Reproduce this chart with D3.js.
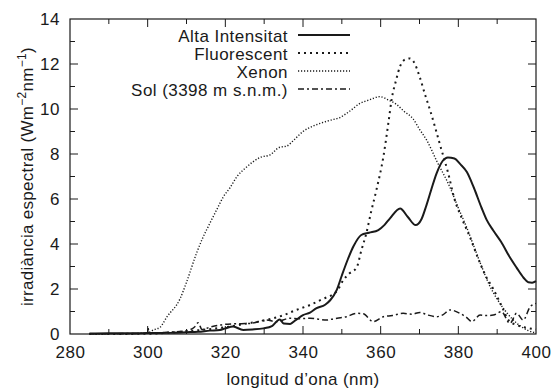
<!DOCTYPE html>
<html><head><meta charset="utf-8">
<script src="https://cdn.jsdelivr.net/npm/d3@7"></script>
<style>body{margin:0;background:#fff}svg{display:block}text{font-family:"Liberation Sans",Arial,sans-serif;fill:#1a1a1a}</style>
</head><body><svg id="c" width="552" height="392"></svg>
<script>
const seriesNames = ["Alta Intensitat","Fluorescent","Xenon","Sol (3398 m s.n.m.)"];
const xTicks = [280,300,320,340,360,380,400];
const yTicks = [0,2,4,6,8,10,12,14];

const altaWl = [285,290,295,300,305,310,313,316,318.6,320,322,324.6,327,329.8,332,334,335,336.7,338,340,341.8,343.5,345.7,347,348.7,350,351.5,353,355,357,359.4,361,362.4,365,367,369,370.5,371.8,373,374.4,376,377.3,379,380.5,382.2,384,386,387.3,389,391,393.3,395,396.8,398,399,400];
const altaVal = [0.02,0.03,0.03,0.04,0.05,0.08,0.1,0.15,0.18,0.25,0.33,0.18,0.2,0.25,0.35,0.65,0.47,0.45,0.6,0.84,0.95,1.15,1.3,1.5,1.96,2.6,3.3,3.9,4.4,4.5,4.62,4.85,5.14,5.58,5.2,4.84,5.1,5.73,6.4,7.14,7.7,7.85,7.8,7.55,7.2,6.5,5.6,5.07,4.6,4.1,3.4,2.95,2.5,2.3,2.28,2.35];

const fluoWl = [285,300,305,310,315,320,325,330,335,338,341.8,345,348.7,350.4,352,353.8,355,356.3,357.5,358.9,360.7,362,362.8,364,365,366.3,367.5,368.5,370.1,371.5,372.7,374,375.3,377.4,379,381,383,385,387,389,391,393,395,397,400];
const fluoVal = [0,0.01,0.05,0.12,0.2,0.3,0.45,0.6,0.84,1.05,1.29,1.55,1.9,2.4,2.7,2.95,3.7,4.47,5.4,6.4,7.88,9.4,10.4,11.3,11.9,12.2,12.25,12.1,11.4,10.6,9.96,9.2,8.4,7.14,6.0,5.1,4.3,3.4,2.6,2.0,1.3,0.6,0.4,0.3,0.2];

const xenWl = [285,295,300,301.5,303.2,305,308.3,310,312.6,314,316.1,318,319.5,321.2,323,325,327.2,329,331.5,334,335.8,337.5,340,342.7,344.4,347,349.5,352,354.7,357,359.8,362,364.1,366,368.4,370,371.9,374.4,377.9,380,382,384,386,388.2,390,392,394,396,398,400];
const xenVal = [0,0.01,0.05,0.18,0.3,0.77,1.55,2.3,3.6,4.2,4.95,5.6,6.1,6.5,7.0,7.35,7.66,7.85,7.96,8.3,8.35,8.6,9.0,9.25,9.36,9.5,9.62,9.9,10.25,10.4,10.55,10.4,10.2,9.9,9.55,9.1,8.6,7.7,6.5,5.6,4.8,3.9,3.0,2.1,1.55,1.05,0.65,0.35,0.15,0.05];

const solWl = [285,295,300,300.1,300.3,305,310,312,313,314,316,318.6,322,326.4,330.6,333,336.7,339,341.8,344,346.1,348,351.2,353.8,355.5,358.1,360.7,363,365.8,368,370.1,372,374.4,376,377.9,380.4,382,383.5,385.6,387,389,391.1,393.3,395,396.7,398.5,400];
const solVal = [0.01,0.02,0.04,0.3,0.04,0.08,0.15,0.3,0.5,0.2,0.3,0.4,0.45,0.47,0.62,0.55,0.7,0.68,0.7,0.66,0.62,0.68,0.77,0.92,0.9,0.55,0.77,0.82,0.92,0.88,0.96,0.85,0.77,0.85,1.07,0.92,0.75,0.55,0.84,0.82,0.84,0.99,0.47,0.92,0.62,1.21,1.36];

const L=70,R=536,T=19,B=334;
const x=d3.scaleLinear().domain([280,400]).range([L,R]);
const y=d3.scaleLinear().domain([0,14]).range([B,T]);
const svg=d3.select("#c");
const ink="#1a1a1a";

const g=svg.append("g");
const xMinor=d3.range(290,400,20), yMinor=d3.range(1,14,2);
xTicks.slice(1,-1).forEach(v=>{g.append("line").attr("x1",x(v)).attr("x2",x(v)).attr("y1",B).attr("y2",B-8);g.append("line").attr("x1",x(v)).attr("x2",x(v)).attr("y1",T).attr("y2",T+8);});
xMinor.forEach(v=>{g.append("line").attr("x1",x(v)).attr("x2",x(v)).attr("y1",B).attr("y2",B-5);g.append("line").attr("x1",x(v)).attr("x2",x(v)).attr("y1",T).attr("y2",T+5);});
yTicks.slice(1,-1).forEach(v=>{g.append("line").attr("x1",L).attr("x2",L+8).attr("y1",y(v)).attr("y2",y(v));g.append("line").attr("x1",R).attr("x2",R-8).attr("y1",y(v)).attr("y2",y(v));});
yMinor.forEach(v=>{g.append("line").attr("x1",L).attr("x2",L+5).attr("y1",y(v)).attr("y2",y(v));g.append("line").attr("x1",R).attr("x2",R-5).attr("y1",y(v)).attr("y2",y(v));});
g.selectAll("line").attr("stroke",ink).attr("stroke-width",1);

const xa=svg.append("g").attr("transform",`translate(0,${B})`).call(d3.axisBottom(x).tickValues(xTicks).tickSize(0).tickPadding(12));
const ya=svg.append("g").attr("transform",`translate(${L},0)`).call(d3.axisLeft(y).tickValues(yTicks).tickSize(0).tickPadding(10));
[xa,ya].forEach(a=>{a.select(".domain").remove();a.selectAll("text").attr("font-size",17).attr("fill",ink).attr("letter-spacing",0.6).style("font-family","Liberation Sans, Arial, sans-serif");});

svg.append("rect").attr("x",L).attr("y",T).attr("width",R-L).attr("height",B-T).attr("fill","none").attr("stroke",ink).attr("stroke-width",1.2);

const line=d3.line().x(d=>x(d[0])).y(d=>y(d[1])).curve(d3.curveMonotoneX);
const styles=[
 {w:2,dash:null},
 {w:2,dash:"2,4"},
 {w:1.4,dash:"1.2,1.8"},
 {w:1.5,dash:"6,3,2,3"}
];
const data=[[altaWl,altaVal],[fluoWl,fluoVal],[xenWl,xenVal],[solWl,solVal]];
data.forEach((s,i)=>{
  const pts=s[0].map((w,j)=>[w,s[1][j]]);
  svg.append("path").datum(pts).attr("d",line).attr("fill","none").attr("stroke",ink)
    .attr("stroke-width",styles[i].w).attr("stroke-dasharray",styles[i].dash);
});

const legY=[35,53,71,89];
seriesNames.forEach((n,i)=>{
  svg.append("text").attr("x",288).attr("y",legY[i]+7).attr("text-anchor","end").attr("font-size",17).attr("letter-spacing",0.45).text(n);
  svg.append("line").attr("x1",298).attr("x2",350).attr("y1",legY[i]).attr("y2",legY[i]).attr("stroke",ink)
    .attr("stroke-width",styles[i].w).attr("stroke-dasharray",styles[i].dash);
});

svg.append("text").attr("x",(L+R)/2).attr("y",385).attr("text-anchor","middle").attr("font-size",17).attr("letter-spacing",0.4).text("longitud d\u2019ona (nm)");
const yt=svg.append("text").attr("transform",`translate(33,${(T+B)/2}) rotate(-90)`).attr("text-anchor","middle").attr("font-size",17).attr("letter-spacing",0.3);
yt.append("tspan").text("irradiància espectral (Wm");
yt.append("tspan").attr("font-size",12).attr("dy",-7).text("\u22122");
yt.append("tspan").attr("dy",7).text("nm");
yt.append("tspan").attr("font-size",12).attr("dy",-7).text("\u22121");
yt.append("tspan").attr("dy",7).text(")");
</script></body></html>
